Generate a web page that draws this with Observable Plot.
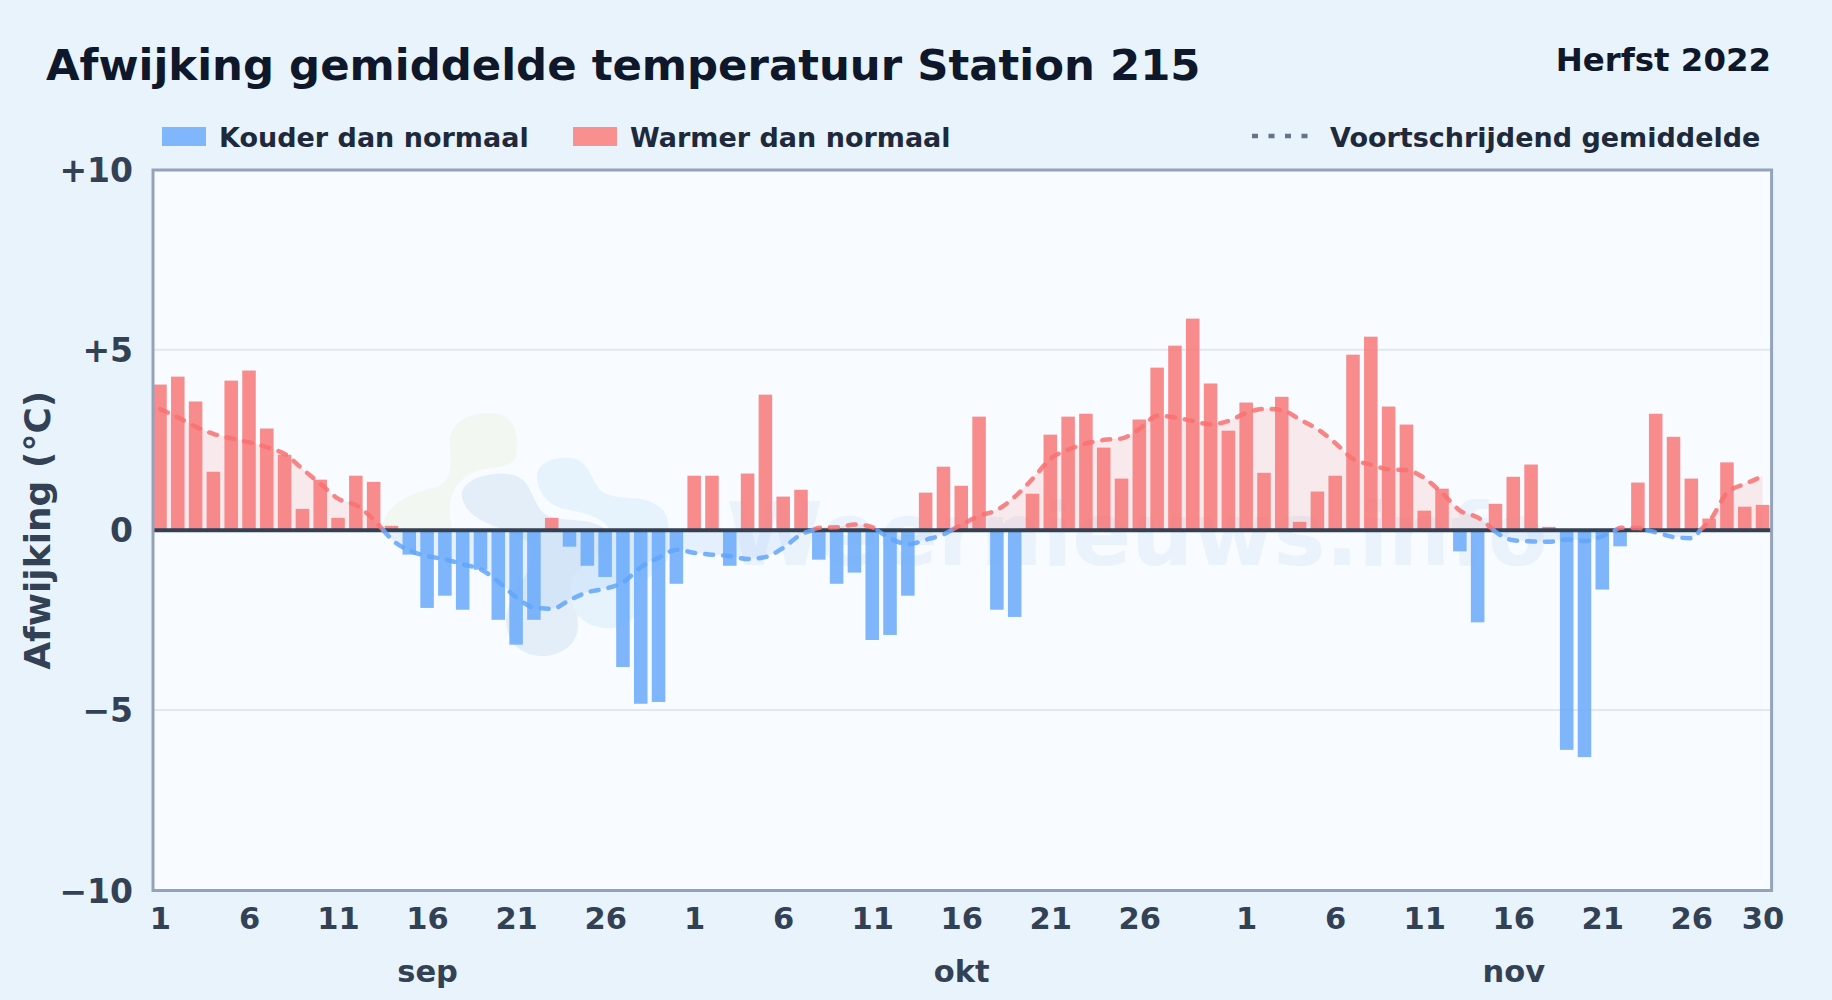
<!DOCTYPE html>
<html lang="nl">
<head>
<meta charset="utf-8">
<title>Afwijking gemiddelde temperatuur Station 215</title>
<script src="https://cdn.jsdelivr.net/npm/d3@7"></script>
<script src="https://cdn.jsdelivr.net/npm/@observablehq/plot@0.6"></script>
<style>
  html, body { margin: 0; padding: 0; width: 1832px; height: 1000px; overflow: hidden; }
  body { background: #e8f3fc; font-family: "DejaVu Sans", sans-serif; font-weight: 700; position: relative; }
  .abs { position: absolute; white-space: nowrap; line-height: 1; }
  #title { left: 46px; top: 43.5px; font-size: 43.4px; color: #0f172a; }
  #season { right: 61px; top: 44px; font-size: 32.4px; color: #0f172a; }
  .lg { top: 123.5px; font-size: 27px; color: #1e293b; }
  .sw { top: 127px; width: 44px; height: 19px; }
  #plotbg { left: 153px; top: 170px; width: 1618.6px; height: 720.5px; background: #f8fbff; }
  #plot { left: 0; top: 150px; }
  #plot svg { display: block; background: transparent; }
</style>
</head>
<body>
<div id="plotbg" class="abs"></div>
<svg class="abs" style="left:0;top:0" width="1832" height="1000" aria-hidden="true">
  <path fill="#f2f8f1" d="M382,530 C384,505 408,494 432,488 C450,484 452,470 450,450 C446,424 466,413 490,413 C516,413 520,438 516,456 C512,470 490,466 474,472 C456,480 448,496 450,515 L452,530 Z"/>
  <path fill="#e4eef8" d="M462,497 C460,480 486,472 508,474 C528,476 530,492 538,506 C546,522 566,518 590,522 C602,526 612,530 618,545 L612,575 C590,585 575,590 578,625 C578,648 556,657 540,656 C518,654 506,640 506,620 C508,590 535,575 532,550 C528,528 468,530 462,497 Z"/>
  <path fill="#e6f3fd" d="M537,478 C536,462 556,456 572,458 C590,462 590,478 600,490 C612,500 630,496 645,500 C662,504 670,516 668,530 L668,560 C650,575 632,590 634,615 C630,630 600,632 586,622 C570,612 568,590 574,575 C590,560 618,550 610,530 C600,512 570,512 556,506 C544,500 538,490 537,478 Z"/>
</svg>
<div id="plot" class="abs"></div>

<div id="title" class="abs">Afwijking gemiddelde temperatuur Station 215</div>
<div id="season" class="abs">Herfst 2022</div>
<div class="abs sw" style="left:162px;background:#80b6fb"></div>
<div class="abs lg" style="left:219px">Kouder dan normaal</div>
<div class="abs sw" style="left:573px;background:#f98f8f"></div>
<div class="abs lg" style="left:630px">Warmer dan normaal</div>
<svg class="abs" style="left:1250px;top:130px" width="60" height="12" aria-hidden="true">
  <line x1="2" x2="58" y1="6" y2="6" stroke="#64748b" stroke-width="4.5" stroke-dasharray="6 10.5"/>
</svg>
<div class="abs lg" style="left:1330px">Voortschrijdend gemiddelde</div>

<script>
// Daily deviation (°C), 1 Sep – 30 Nov 2022
const sepValues = [4.03,4.25,3.56,1.61,4.14,4.42,2.81,2.08,0.58,1.39,0.33,1.5,1.33,0.11,-0.69,-2.17,-1.83,-2.22,-1.11,-2.5,-3.19,-2.5,0.33,-0.47,-1.0,-1.31,-3.81,-4.83,-4.78,-1.5];
const oktValues = [1.5,1.5,-1.0,1.56,3.75,0.92,1.11,-0.83,-1.5,-1.19,-3.06,-2.92,-1.83,1.03,1.75,1.22,3.14,-2.22,-2.42,1.0,2.64,3.14,3.22,2.28,1.42,3.06,4.5,5.11,5.86,4.06,2.75];
const novValues = [3.53,1.58,3.69,0.22,1.06,1.5,4.86,5.36,3.42,2.92,0.53,1.14,-0.6,-2.57,0.72,1.47,1.81,0.08,-6.11,-6.31,-1.66,-0.46,1.31,3.22,2.58,1.42,0.31,1.87,0.64,0.69];
// Moving average as drawn
const sepAverage = [3.36,3.13,2.87,2.67,2.55,2.44,2.30,2.11,1.69,1.28,0.87,0.69,0.28,-0.26,-0.57,-0.72,-0.81,-0.95,-1.09,-1.44,-1.87,-2.15,-2.18,-1.93,-1.72,-1.62,-1.44,-1.02,-0.76,-0.54];
const oktAverage = [-0.63,-0.68,-0.72,-0.80,-0.74,-0.48,-0.11,0.07,0.08,0.16,0.08,-0.23,-0.39,-0.26,-0.11,0.16,0.40,0.57,0.94,1.44,1.99,2.24,2.41,2.51,2.55,2.82,3.18,3.13,3.03,2.94,3.04];
const novAverage = [3.26,3.37,3.33,3.07,2.80,2.41,1.97,1.82,1.69,1.67,1.44,1.02,0.54,0.35,-0.05,-0.28,-0.31,-0.32,-0.26,-0.30,-0.16,0.07,0.06,-0.06,-0.19,-0.22,0.26,1.05,1.29,1.5];

const monthStarts = [["sep",0],["okt",30],["nov",61]];
const dayTicks = [1,6,11,16,21,26];
const extraLastDay = 30;
const monthLabelDay = 16;
const yTicks = [-10,-5,0,5,10];
const gridLines = [-5,5];

const values = [...sepValues, ...oktValues, ...novValues];
const average = [...sepAverage, ...oktAverage, ...novAverage];
const bars = values.map((v, i) => ({i, v}));

// tick positions and labels, from the calendar
const tickLabel = new Map();
for (const [, start] of monthStarts) for (const d of dayTicks) tickLabel.set(start + d - 1, String(d));
tickLabel.set(monthStarts[2][1] + extraLastDay - 1, String(extraLastDay));
const monthTick = new Map(monthStarts.map(([m, start]) => [start + monthLabelDay - 1, m]));

// split the moving average into runs of equal sign, closing each at its zero crossing
const runs = [];
let run = 0;
average.forEach((ma, i) => {
  if (i > 0) {
    const prev = average[i - 1];
    if ((prev >= 0) !== (ma >= 0)) {
      const cross = i - 1 + prev / (prev - ma);
      runs.push({i: cross, ma: 0, run, warm: prev >= 0});
      run++;
      runs.push({i: cross, ma: 0, run, warm: ma >= 0});
    }
  }
  runs.push({i, ma, run, warm: ma >= 0});
});

const RED = "#f87171", BLUE = "#60a5fa";
const curve = "monotone-x";
const half = 0.38;
const dash = "8 10";

const chart = Plot.plot({
  width: 1832,
  height: 850,
  marginTop: 19.5,
  marginBottom: 110,
  marginLeft: 152.5,
  marginRight: 60.9,
  style: {background: "transparent", fontFamily: '"DejaVu Sans", sans-serif', fontWeight: 700},
  x: {type: "linear", domain: [-0.42, 90.48]},
  y: {domain: [-10, 10]},
  marks: [
    Plot.text(["Weernieuws.info"], {frameAnchor: "middle", dx: 175, dy: 7, fontSize: 87, fontWeight: 700, fill: "#dbe9f8", fillOpacity: 0.5}),
    Plot.ruleY(gridLines, {stroke: "#e2e8f0", strokeWidth: 2, dy: -0.5}),
    Plot.areaY(runs.filter(d => d.warm), {x: "i", y: "ma", z: "run", curve, fill: RED, fillOpacity: 0.13}),
    Plot.areaY(runs.filter(d => !d.warm), {x: "i", y: "ma", z: "run", curve, fill: BLUE, fillOpacity: 0.12}),
    Plot.rectY(bars, {x1: d => d.i - half, x2: d => d.i + half, y: "v", fill: d => d.v >= 0 ? RED : BLUE, fillOpacity: 0.8}),
    Plot.ruleY([0], {stroke: "#334155", strokeWidth: 4}),
    Plot.line(runs.filter(d => d.warm), {x: "i", y: "ma", z: "run", curve, stroke: RED, strokeWidth: 4.5, strokeDasharray: dash, strokeLinecap: "round", strokeOpacity: 0.85}),
    Plot.line(runs.filter(d => !d.warm), {x: "i", y: "ma", z: "run", curve, stroke: BLUE, strokeWidth: 4.5, strokeDasharray: dash, strokeLinecap: "round", strokeOpacity: 0.85}),
    Plot.frame({stroke: "#94a3b8", strokeWidth: 3}),
    Plot.axisY({ticks: yTicks, tickSize: 0, tickPadding: 20, fontSize: 33, fill: "#334155", label: null, dy: 1.5,
      tickFormat: d => d > 0 ? `+${d}` : d < 0 ? `−${-d}` : "0"}),
    Plot.text(["Afwijking (°C)"], {frameAnchor: "left", textAnchor: "middle", rotate: -90, dx: -114.5, fontSize: 36, fontWeight: 700, fill: "#334155"}),
    Plot.axisX({ticks: [...tickLabel.keys()], tickSize: 0, tickPadding: 17, fontSize: 30.5, fill: "#334155", label: null,
      tickFormat: d => tickLabel.get(d)}),
    Plot.axisX({ticks: [...monthTick.keys()], tickSize: 0, tickPadding: 70, fontSize: 30.5, fill: "#334155", label: null,
      tickFormat: d => monthTick.get(d)})
  ]
});
document.getElementById("plot").append(chart);
</script>
</body>
</html>
